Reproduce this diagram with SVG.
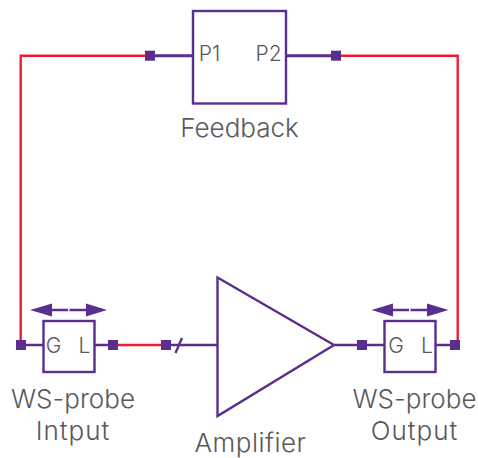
<svg xmlns="http://www.w3.org/2000/svg" width="478" height="458" viewBox="0 0 478 458">
<style>
.red{fill:none;stroke:#ed1c34;stroke-width:2.4}
.pur{fill:none;stroke:#5b2d8e;stroke-width:2.4}
.lead{fill:none;stroke:#5b2d8e;stroke-width:3}
.box{fill:#fff;stroke:#5b2d8e;stroke-width:2.4}
.port{fill:#5b2d8e}
.head{fill:#5b2d8e}
text{font-family:"Inter","Liberation Sans",sans-serif;fill:#58595b;text-anchor:middle;font-weight:350}
.lab{font-size:26px}
.wide{letter-spacing:1px}
.pin{font-size:21px}
</style>
<g id="connectors">
<path class="red" d="M150 55.700H20.700V345"/>
<path class="red" d="M336 55.700H457.700V345"/>
<path class="red" d="M113 345H166"/>
<path class="lead" d="M150 55.700H193M286 55.700H336"/>
<path class="pur" d="M21 345H43M95 345H113M166 345H217M334 345H384M436 345H455"/>
<path class="pur" d="M175.500 353L182 338"/>
<rect class="port" x="145" y="50.700" width="10" height="10"/>
<rect class="port" x="331" y="50.700" width="10" height="10"/>
<rect class="port" x="16" y="340" width="10" height="10"/>
<rect class="port" x="108" y="340" width="10" height="10"/>
<rect class="port" x="161" y="340" width="10" height="10"/>
<rect class="port" x="357" y="340" width="10" height="10"/>
<rect class="port" x="450" y="340" width="10" height="10"/>
</g>
<g id="feedback">
<rect class="box" x="193" y="11" width="93" height="92.500"/>
<text class="pin" x="209.500" y="61">P1</text>
<text class="pin" x="268.500" y="61">P2</text>
<text class="lab" x="239.500" y="137">Feedback</text>
</g>
<g id="amplifier">
<path class="box" d="M217.500 277.500L334 345L217.500 416Z"/>
<text class="lab" x="250.500" y="452" style="letter-spacing:.5px">Amplifier</text>
</g>
<g id="probe-input">
<path class="pur" d="M52 310H68M69.500 310H86"/>
<path class="head" d="M30 310L52 303.500V316.500ZM107 310L86 303.500V316.500Z"/>
<rect class="box" x="43.500" y="321" width="51" height="51"/>
<text class="pin" x="53.500" y="352.500">G</text>
<text class="pin" x="84.500" y="352.500">L</text>
<text class="lab" x="73" y="408">WS-probe</text>
<text class="lab wide" x="73" y="440">Intput</text>
</g>
<g id="probe-output">
<path class="pur" d="M393 310H409M410.500 310H427"/>
<path class="head" d="M371.500 310L393 303.500V316.500ZM448.500 310L427 303.500V316.500Z"/>
<rect class="box" x="384.500" y="321" width="51" height="51"/>
<text class="pin" x="396" y="352.500">G</text>
<text class="pin" x="427" y="352.500">L</text>
<text class="lab" x="414.500" y="408">WS-probe</text>
<text class="lab wide" x="414.500" y="440">Output</text>
</g>
</svg>
